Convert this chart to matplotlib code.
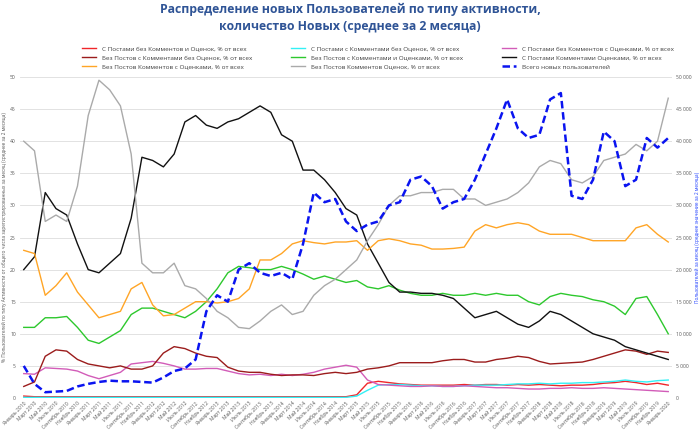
import numpy as np
import matplotlib
matplotlib.use("Agg")
import matplotlib.pyplot as plt
from matplotlib.ticker import FuncFormatter

plt.rcParams['font.family'] = ['Open Sans', 'DejaVu Sans']

# bimonthly points, Jan 2010 .. Jan 2020
months = ["Январь", "Март", "Май", "Июль", "Сентябрь", "Ноябрь"]
labels = [f"{months[i % 6]} {2010 + i // 6}" for i in range(61)]

# % of new users by activity type (2-month average)
posts_only = [0.3, 0.2, 0.2, 0.2, 0.2, 0.2, 0.2, 0.2, 0.2, 0.2, 0.2, 0.2, 0.2, 0.2, 0.2, 0.2,
              0.2, 0.2, 0.2, 0.2, 0.2, 0.2, 0.2, 0.2, 0.2, 0.2, 0.2, 0.2, 0.2, 0.2, 0.2, 0.5,
              2.3, 2.6, 2.4, 2.2, 2.1, 2.0, 2.0, 2.0, 2.0, 2.1, 2.0, 2.1, 2.1, 2.0, 2.1, 2.0,
              2.1, 2.0, 1.9, 2.0, 2.0, 2.1, 2.3, 2.4, 2.6, 2.4, 2.1, 2.3, 2.0]
posts_comments = [0.1] * 31 + [0.3, 1.2, 2.0, 2.1, 2.1, 2.0, 1.9, 1.9, 1.8, 1.8, 1.9, 2.0, 2.0,
                               2.0, 2.1, 2.2, 2.2, 2.3, 2.2, 2.3, 2.3, 2.4, 2.4, 2.5, 2.6, 2.8,
                               2.6, 2.5, 2.7, 2.8]
posts_votes = [3.8, 3.7, 4.7, 4.6, 4.5, 4.2, 3.5, 3.0, 3.5, 4.0, 5.3, 5.5, 5.7, 5.4, 5.0, 4.5,
               4.5, 4.6, 4.6, 4.2, 3.8, 3.6, 3.7, 3.5, 3.7, 3.5, 3.7, 4.0, 4.5, 4.8, 5.1, 4.8,
               2.8, 2.1, 2.0, 1.9, 1.8, 1.8, 1.9, 1.8, 1.8, 1.9, 1.8, 1.7, 1.6, 1.6, 1.5, 1.4,
               1.4, 1.5, 1.5, 1.6, 1.5, 1.5, 1.6, 1.5, 1.4, 1.3, 1.2, 1.1, 1.0]
comments_only = [1.8, 2.5, 6.5, 7.5, 7.3, 6.0, 5.3, 5.0, 4.7, 5.0, 4.5, 4.5, 5.0, 7.0, 8.0, 7.7,
                 7.0, 6.5, 6.3, 4.8, 4.2, 4.0, 4.0, 3.7, 3.5, 3.6, 3.6, 3.5, 3.8, 4.0, 3.8, 4.0,
                 4.5, 4.7, 5.0, 5.5, 5.5, 5.5, 5.5, 5.8, 6.0, 6.0, 5.6, 5.6, 6.0, 6.2, 6.5, 6.3,
                 5.7, 5.3, 5.4, 5.5, 5.6, 6.0, 6.5, 7.0, 7.5, 7.3, 6.8, 7.3, 7.1]
comments_votes = [11.0, 11.0, 12.5, 12.5, 12.7, 11.0, 9.0, 8.5, 9.5, 10.5, 13.0, 14.0, 14.0, 13.5,
                  13.0, 12.5, 13.5, 15.0, 17.0, 19.5, 20.5, 20.3, 20.0, 20.0, 20.5, 20.0, 19.3,
                  18.5, 19.0, 18.5, 18.0, 18.3, 17.3, 17.0, 17.5, 16.8, 16.3, 16.0, 16.0, 16.3,
                  16.0, 16.0, 16.3, 16.0, 16.3, 16.0, 16.0, 15.0, 14.5, 15.8, 16.3, 16.0, 15.8,
                  15.3, 15.0, 14.3, 13.0, 15.5, 15.8, 13.0, 10.0]
all_three = [20.0, 22.0, 32.0, 29.5, 28.5, 24.0, 20.0, 19.5, 21.0, 22.5, 28.0, 37.5, 37.0, 36.0,
             38.0, 43.0, 44.0, 42.5, 42.0, 43.0, 43.5, 44.5, 45.5, 44.5, 41.0, 40.0, 35.5, 35.5,
             34.0, 32.0, 29.5, 28.5, 24.0, 21.0, 18.0, 16.5, 16.5, 16.3, 16.3, 16.0, 15.5, 14.0,
             12.5, 13.0, 13.5, 12.5, 11.5, 11.0, 12.0, 13.5, 13.0, 12.0, 11.0, 10.0, 9.5, 9.0,
             8.0, 7.5, 7.0, 6.5, 6.0]
votes_only = [23.0, 22.5, 16.0, 17.5, 19.5, 16.5, 14.5, 12.5, 13.0, 13.5, 17.0, 18.0, 14.5, 12.8,
              13.0, 14.0, 15.0, 15.0, 14.8, 15.0, 15.5, 17.0, 21.5, 21.5, 22.5, 24.0, 24.5, 24.2,
              24.0, 24.3, 24.3, 24.5, 23.0, 24.5, 24.8, 24.5, 24.0, 23.8, 23.2, 23.2, 23.3, 23.5,
              26.0, 27.0, 26.5, 27.0, 27.3, 27.0, 26.0, 25.5, 25.5, 25.5, 25.0, 24.5, 24.5, 24.5,
              24.5, 26.5, 27.0, 25.5, 24.3]
nothing = [40.0, 38.5, 27.5, 28.5, 27.5, 33.0, 44.0, 49.5, 48.0, 45.5, 38.0, 21.0, 19.5, 19.5,
           21.0, 17.5, 17.0, 15.5, 13.5, 12.5, 11.0, 10.8, 12.0, 13.5, 14.5, 13.0, 13.5, 16.0,
           17.5, 18.5, 20.0, 21.5, 24.5, 27.0, 30.0, 31.5, 31.5, 32.0, 32.0, 32.5, 32.5, 31.0,
           31.0, 30.0, 30.5, 31.0, 32.0, 33.5, 36.0, 37.0, 36.5, 34.0, 33.5, 34.5, 37.0, 37.5,
           38.0, 39.5, 38.5, 40.0, 46.7]
# total new users per month (2-month average)
total_users = [5000, 2200, 900, 1000, 1100, 1800, 2200, 2500, 2700, 2600, 2600, 2500, 2400, 3200,
               4200, 4600, 6000, 13500, 16000, 15000, 20000, 21000, 19500, 19000, 19500, 18500,
               24000, 32000, 30500, 31000, 27500, 26000, 27000, 27500, 30000, 30500, 34000, 34500,
               33000, 29500, 30500, 31000, 34000, 38000, 42000, 46500, 42000, 40500, 41000, 46500,
               47500, 31500, 31000, 34000, 41500, 40000, 33000, 34000, 40500, 39000, 40500]

names = ["С Постами без Комментов и Оценок, % от всех",
         "С Постами с Комментами без Оценок, % от всех",
         "С Постами без Комментов с Оценками, % от всех",
         "Без Постов с Комментами без Оценок, % от всех",
         "Без Постов с Комментами и Оценками, % от всех",
         "С Постами Комментами Оценками, % от всех",
         "Без Постов Комментов с Оценками, % от всех",
         "Без Постов Комментов Оценок, % от всех"]
series = [posts_only, posts_comments, posts_votes, comments_only, comments_votes,
          all_three, votes_only, nothing]
colors = ["#F0262A", "#33F0F5", "#D25CB8", "#9B1C1C", "#2DC82D", "#111111", "#FFA526", "#AAAAAA"]

x = np.arange(len(labels))

fig = plt.figure(figsize=(7, 4.3), dpi=100)
ax = fig.add_axes([20 / 700, 32 / 430, 652 / 700, 321 / 430])
ax2 = ax.twinx()

handles = []
for s, c, n in zip(series, colors, names):
    h, = ax.plot(x, s, color=c, lw=1.0, label=n)
    handles.append(h)
hb, = ax2.plot(x, total_users, color="#0A14F0", lw=1.8, ls=(0, (3, 1.5)),
               label="Всего новых пользователей")
handles.append(hb)

ax.set_xlim(-0.35, 60.35)
ax.set_ylim(0, 50)
ax2.set_ylim(0, 50000)
ax.set_yticks(np.arange(0, 51, 5))
ax2.set_yticks(np.arange(0, 50001, 5000))
ax2.yaxis.set_major_formatter(FuncFormatter(lambda v, p: f"{int(v):,}".replace(",", " ")))
ax.grid(axis="y", color="#DDDDDD", lw=0.6)
ax.set_axisbelow(True)
for a in (ax, ax2):
    for sp in a.spines.values():
        sp.set_visible(False)
    a.tick_params(length=0, labelsize=3.6, labelcolor="#595959", pad=3)

ax.set_xticks(x)
ax.set_xticklabels(labels, rotation=45, ha="right", rotation_mode="anchor")
ax.tick_params(axis="x", pad=2)

ax.set_ylabel("% Пользователей по типу Активности от общего числа зарегистрированных за месяц "
              "(среднее за 2 месяца)", fontsize=3.4, color="#595959", labelpad=2)
ax2.set_ylabel("Пользователей за месяц (среднее значение за 2 месяца)", fontsize=3.4,
               color="#1F3FFF", labelpad=2)

order = [0, 3, 6, 1, 4, 7, 2, 5, 8]
fig.legend([handles[i] for i in order], [handles[i].get_label() for i in order],
           ncol=3, loc="center", bbox_to_anchor=(378 / 700, 1 - 58 / 430), frameon=False,
           fontsize=4.6, labelcolor="#404040", handlelength=2.2, columnspacing=6,
           labelspacing=0.55, handletextpad=1.0)

fig.suptitle("Распределение новых Пользователей по типу активности,\n"
             "количество Новых (среднее за 2 месяца)", y=0.993, fontsize=8.8,
             fontweight="bold", color="#2F5496", linespacing=1.35)

fig.savefig("out.png", dpi=100)
